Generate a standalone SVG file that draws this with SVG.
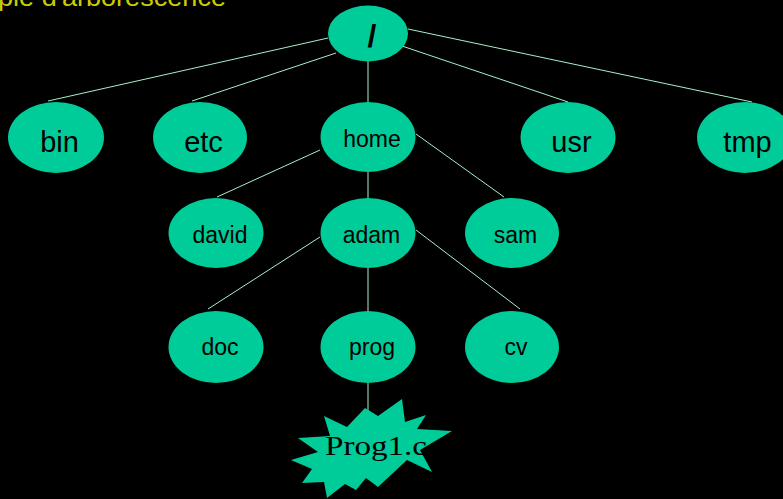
<svg xmlns="http://www.w3.org/2000/svg" width="783" height="499" viewBox="0 0 783 499">
<style>
.bg{fill:#000}
.n{fill:#00cc99}
.c line{stroke:#a6efc9;stroke-width:1}
.t{font-family:"Liberation Sans",Arial,sans-serif;fill:#000;text-anchor:middle}
.big{font-size:29px}
.mid{font-size:23px}
.title{font-family:"Liberation Sans",Arial,sans-serif;font-size:25px;fill:#cccc00}
</style>
<rect class="bg" x="0" y="0" width="783" height="499"/>
<text class="title" x="-2" y="6" textLength="228" lengthAdjust="spacingAndGlyphs">ple d'arborescence</text>
<g id="connectors" class="c">
<line x1="328" y1="38" x2="48" y2="101"/>
<line x1="336" y1="53" x2="192" y2="101"/>
<line x1="368" y1="61" x2="368" y2="102"/>
<line x1="402" y1="46" x2="568" y2="102"/>
<line x1="408" y1="29" x2="752" y2="102"/>
<line x1="320" y1="150" x2="217" y2="197"/>
<line x1="368" y1="172" x2="368" y2="198"/>
<line x1="416" y1="134" x2="504" y2="197"/>
<line x1="320" y1="237" x2="208" y2="309"/>
<line x1="368" y1="268" x2="368" y2="311"/>
<line x1="416" y1="230" x2="520" y2="309"/>
<line x1="368" y1="383" x2="368" y2="414"/>
</g>
<g id="root"><ellipse class="n" cx="368" cy="33.5" rx="40" ry="28"/><text class="t" x="372" y="47" style="font-size:32px;font-weight:bold">/</text></g>
<g id="bin"><ellipse class="n" cx="56" cy="137.5" rx="48" ry="35.5"/><text class="t big" x="59.5" y="152">bin</text></g>
<g id="etc"><ellipse class="n" cx="200" cy="137.5" rx="47" ry="35.5"/><text class="t big" x="203.5" y="152">etc</text></g>
<g id="home"><ellipse class="n" cx="368" cy="137" rx="47.5" ry="35"/><text class="t mid" x="372" y="147">home</text></g>
<g id="usr"><ellipse class="n" cx="568" cy="137.5" rx="47.5" ry="35.5"/><text class="t big" x="571.5" y="152">usr</text></g>
<g id="tmp"><ellipse class="n" cx="745" cy="137.5" rx="48" ry="35.5"/><text class="t big" x="747.5" y="152">tmp</text></g>
<g id="david"><ellipse class="n" cx="216" cy="233" rx="47.5" ry="35"/><text class="t mid" x="220" y="243">david</text></g>
<g id="adam"><ellipse class="n" cx="368" cy="233" rx="47.5" ry="35"/><text class="t mid" x="371.5" y="243">adam</text></g>
<g id="sam"><ellipse class="n" cx="512" cy="233" rx="47" ry="35"/><text class="t mid" x="515.5" y="243">sam</text></g>
<g id="doc"><ellipse class="n" cx="216" cy="347" rx="47.5" ry="36"/><text class="t mid" x="220" y="355">doc</text></g>
<g id="prog"><ellipse class="n" cx="368" cy="347" rx="47.5" ry="36"/><text class="t mid" x="372" y="355">prog</text></g>
<g id="cv"><ellipse class="n" cx="512" cy="347" rx="47" ry="36"/><text class="t mid" x="516" y="355">cv</text></g>
<g id="prog1c">
<polygon class="n" points="324,416 347,427 365,408 378,416 402,399 405,422 426,415 417,429 452,431 420,450 432,472 407,460 378,487 366,478 356,490 345,484 327,498 324,482 302,483 312,469 291,460 318,452 298,438 330,436"/>
<text x="376" y="455" textLength="102" lengthAdjust="spacingAndGlyphs" style="font-family:'Liberation Serif','Times New Roman',serif;font-size:27px;fill:#000;text-anchor:middle">Prog1.c</text>
</g>
</svg>
